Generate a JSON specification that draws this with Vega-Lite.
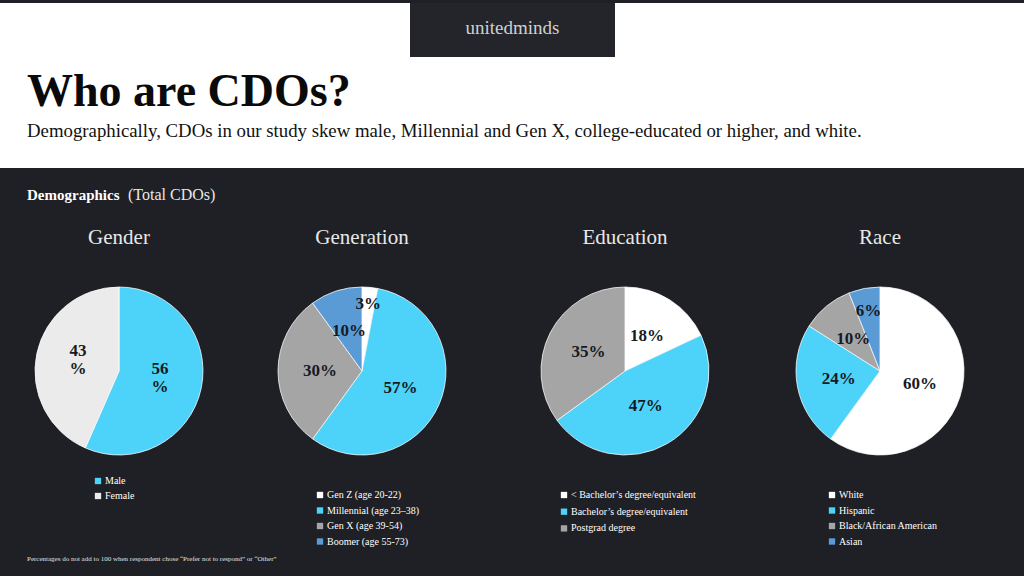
{
  "$schema": "https://vega.github.io/schema/vega-lite/v6.json",
  "background": "#1f2025",
  "padding": {"top": 3, "left": 0, "right": 0, "bottom": 16},
  "config": {
    "view": {"stroke": null},
    "font": "Liberation Serif",
    "title": {"font": "Liberation Serif", "frame": "group", "offset": 0}
  },
  "datasets": {
    "gender": [
      {"category": "Male", "pct": 56, "label": "56\n%", "rank": 1},
      {"category": "Female", "pct": 43, "label": "43\n%", "rank": 2}
    ],
    "generation": [
      {"category": "Gen Z (age 20-22)", "pct": 3, "label": "3%", "rank": 1},
      {"category": "Millennial (age 23–38)", "pct": 57, "label": "57%", "rank": 2},
      {"category": "Gen X (age 39-54)", "pct": 30, "label": "30%", "rank": 3},
      {"category": "Boomer (age 55-73)", "pct": 10, "label": "10%", "rank": 4}
    ],
    "education": [
      {"category": "< Bachelor’s degree/equivalent", "pct": 18, "label": "18%", "rank": 1},
      {"category": "Bachelor’s degree/equivalent", "pct": 47, "label": "47%", "rank": 2},
      {"category": "Postgrad degree", "pct": 35, "label": "35%", "rank": 3}
    ],
    "race": [
      {"category": "White", "pct": 60, "label": "60%", "rank": 1},
      {"category": "Hispanic", "pct": 24, "label": "24%", "rank": 2},
      {"category": "Black/African American", "pct": 10, "label": "10%", "rank": 3},
      {"category": "Asian", "pct": 6, "label": "6%", "rank": 4}
    ]
  },
  "title": {
    "text": "Percentages do not add to 100 when respondent chose “Prefer not to respond” or “Other”",
    "orient": "bottom", "anchor": "start", "dx": 27, "offset": 8,
    "fontSize": 7, "fontWeight": "normal", "color": "#e0e0e0"
  },
  "spacing": 19,
  "vconcat": [
    {
      "title": {
        "text": "Who are CDOs?",
        "subtitle": "Demographically, CDOs in our study skew male, Millennial and Gen X, college-educated or higher, and white.",
        "anchor": "start", "dx": 27, "dy": 143,
        "fontSize": 46, "fontWeight": "bold", "color": "#0a0a0a",
        "subtitleFont": "Liberation Serif", "subtitleFontSize": 18.8, "subtitleColor": "#111111", "subtitlePadding": 6
      },
      "spacing": 0,
      "hconcat": [
        {"width": 410, "height": 165, "data": {"values": []}, "mark": "point", "encoding": {}, "view": {"fill": "#ffffff", "stroke": null}},
        {
          "spacing": 0,
          "vconcat": [
            {
              "width": 205, "height": 54, "data": {"values": []}, "mark": "point", "encoding": {},
              "view": {"fill": "#24252b", "stroke": null},
              "title": {"text": "unitedminds", "anchor": "middle", "dy": 39, "fontSize": 19, "fontWeight": "normal", "color": "#d0d0d0"}
            },
            {"width": 205, "height": 111, "data": {"values": []}, "mark": "point", "encoding": {}, "view": {"fill": "#ffffff", "stroke": null}}
          ]
        },
        {"width": 409, "height": 165, "data": {"values": []}, "mark": "point", "encoding": {}, "view": {"fill": "#ffffff", "stroke": null}}
      ]
    },
    {
      "title": {"text": "Demographics", "anchor": "start", "dx": 27, "dy": 20, "fontSize": 15, "fontWeight": "bold", "color": "#ffffff"},
      "vconcat": [
        {
          "title": {"text": "(Total CDOs)", "anchor": "start", "dx": 128, "offset": 24, "fontSize": 16, "fontWeight": "normal", "color": "#e8e8e8"},
          "spacing": 20,
          "resolve": {"scale": {"color": "independent", "theta": "independent"}, "legend": {"color": "independent"}},
          "hconcat": [
            {
              "width": 238, "height": 200,
              "title": {"text": "Gender", "anchor": "middle", "fontSize": 21, "fontWeight": "normal", "color": "#e8e8e8", "offset": 23},
              "data": {"name": "gender"},
              "encoding": {
                "theta": {"field": "pct", "type": "quantitative", "stack": true},
                "order": {"field": "rank", "type": "quantitative"},
                "color": {
                  "field": "category", "type": "nominal",
                  "scale": {"domain": ["Male", "Female"], "range": ["#4dd2fa", "#ebebeb"]},
                  "legend": {"orient": "none", "legendX": 93, "legendY": 205, "title": null, "symbolType": "square", "symbolSize": 40, "symbolStrokeWidth": 0, "symbolOpacity": 1, "labelFontSize": 10, "labelColor": "#ffffff", "labelFont": "Liberation Serif", "labelOffset": 2, "rowPadding": 5, "padding": 0}
                }
              },
              "layer": [
                {"mark": {"type": "arc", "outerRadius": 84, "stroke": "#ffffff", "strokeWidth": 0.75}},
                {"mark": {"type": "text", "radius": 42, "fontSize": 17, "fontWeight": "bold", "lineBreak": "\n", "lineHeight": 18, "dy": -11},
                 "encoding": {"text": {"field": "label"}, "color": {"value": "#161a24"}}}
              ]
            },
            {
              "width": 208, "height": 200,
              "title": {"text": "Generation", "anchor": "middle", "fontSize": 21, "fontWeight": "normal", "color": "#e8e8e8", "offset": 23},
              "data": {"name": "generation"},
              "encoding": {
                "theta": {"field": "pct", "type": "quantitative", "stack": true},
                "order": {"field": "rank", "type": "quantitative"},
                "color": {
                  "field": "category", "type": "nominal",
                  "scale": {"domain": ["Gen Z (age 20-22)", "Millennial (age 23–38)", "Gen X (age 39-54)", "Boomer (age 55-73)"], "range": ["#ffffff", "#4dd2fa", "#a5a5a5", "#5b9bd5"]},
                  "legend": {"orient": "none", "legendX": 57, "legendY": 219, "title": null, "symbolType": "square", "symbolSize": 40, "symbolStrokeWidth": 0, "symbolOpacity": 1, "labelFontSize": 10, "labelColor": "#ffffff", "labelFont": "Liberation Serif", "labelOffset": 2, "rowPadding": 5.5, "padding": 0}
                }
              },
              "layer": [
                {"mark": {"type": "arc", "outerRadius": 84, "stroke": "#ffffff", "strokeWidth": 0.75}},
                {"mark": {"type": "text", "radius": 42, "fontSize": 17, "fontWeight": "bold"},
                 "encoding": {"text": {"field": "label"}, "color": {"value": "#161a24"}, "opacity": {"condition": {"test": "datum.pct < 8", "value": 0}, "value": 1}}},
                {"mark": {"type": "text", "radius": 67, "fontSize": 17, "fontWeight": "bold"},
                 "encoding": {"text": {"field": "label"}, "color": {"value": "#161a24"}, "opacity": {"condition": {"test": "datum.pct >= 8", "value": 0}, "value": 1}}}
              ]
            },
            {
              "width": 278, "height": 200,
              "title": {"text": "Education", "anchor": "middle", "fontSize": 21, "fontWeight": "normal", "color": "#e8e8e8", "offset": 23},
              "data": {"name": "education"},
              "encoding": {
                "theta": {"field": "pct", "type": "quantitative", "stack": true},
                "order": {"field": "rank", "type": "quantitative"},
                "color": {
                  "field": "category", "type": "nominal",
                  "scale": {"domain": ["< Bachelor’s degree/equivalent", "Bachelor’s degree/equivalent", "Postgrad degree"], "range": ["#ffffff", "#4dd2fa", "#a5a5a5"]},
                  "legend": {"orient": "none", "legendX": 73, "legendY": 219, "title": null, "symbolType": "square", "symbolSize": 40, "symbolStrokeWidth": 0, "symbolOpacity": 1, "labelFontSize": 10, "labelColor": "#ffffff", "labelFont": "Liberation Serif", "labelOffset": 2, "rowPadding": 6.7, "padding": 0}
                }
              },
              "layer": [
                {"mark": {"type": "arc", "outerRadius": 84, "stroke": "#ffffff", "strokeWidth": 0.75}},
                {"mark": {"type": "text", "radius": 41, "fontSize": 17, "fontWeight": "bold"},
                 "encoding": {"text": {"field": "label"}, "color": {"value": "#161a24"}}}
              ]
            },
            {
              "width": 192, "height": 200,
              "title": {"text": "Race", "anchor": "middle", "fontSize": 21, "fontWeight": "normal", "color": "#e8e8e8", "offset": 23},
              "data": {"name": "race"},
              "encoding": {
                "theta": {"field": "pct", "type": "quantitative", "stack": true},
                "order": {"field": "rank", "type": "quantitative"},
                "color": {
                  "field": "category", "type": "nominal",
                  "scale": {"domain": ["White", "Hispanic", "Black/African American", "Asian"], "range": ["#ffffff", "#4dd2fa", "#a5a5a5", "#5b9bd5"]},
                  "legend": {"orient": "none", "legendX": 43, "legendY": 219, "title": null, "symbolType": "square", "symbolSize": 40, "symbolStrokeWidth": 0, "symbolOpacity": 1, "labelFontSize": 10, "labelColor": "#ffffff", "labelFont": "Liberation Serif", "labelOffset": 2, "rowPadding": 5.5, "padding": 0}
                }
              },
              "layer": [
                {"mark": {"type": "arc", "outerRadius": 84, "stroke": "#ffffff", "strokeWidth": 0.75}},
                {"mark": {"type": "text", "radius": 42, "fontSize": 17, "fontWeight": "bold"},
                 "encoding": {"text": {"field": "label"}, "color": {"value": "#161a24"}, "opacity": {"condition": {"test": "datum.pct < 8", "value": 0}, "value": 1}}},
                {"mark": {"type": "text", "radius": 61, "fontSize": 17, "fontWeight": "bold"},
                 "encoding": {"text": {"field": "label"}, "color": {"value": "#161a24"}, "opacity": {"condition": {"test": "datum.pct >= 8", "value": 0}, "value": 1}}}
              ]
            }
          ]
        }
      ]
    }
  ]
}
